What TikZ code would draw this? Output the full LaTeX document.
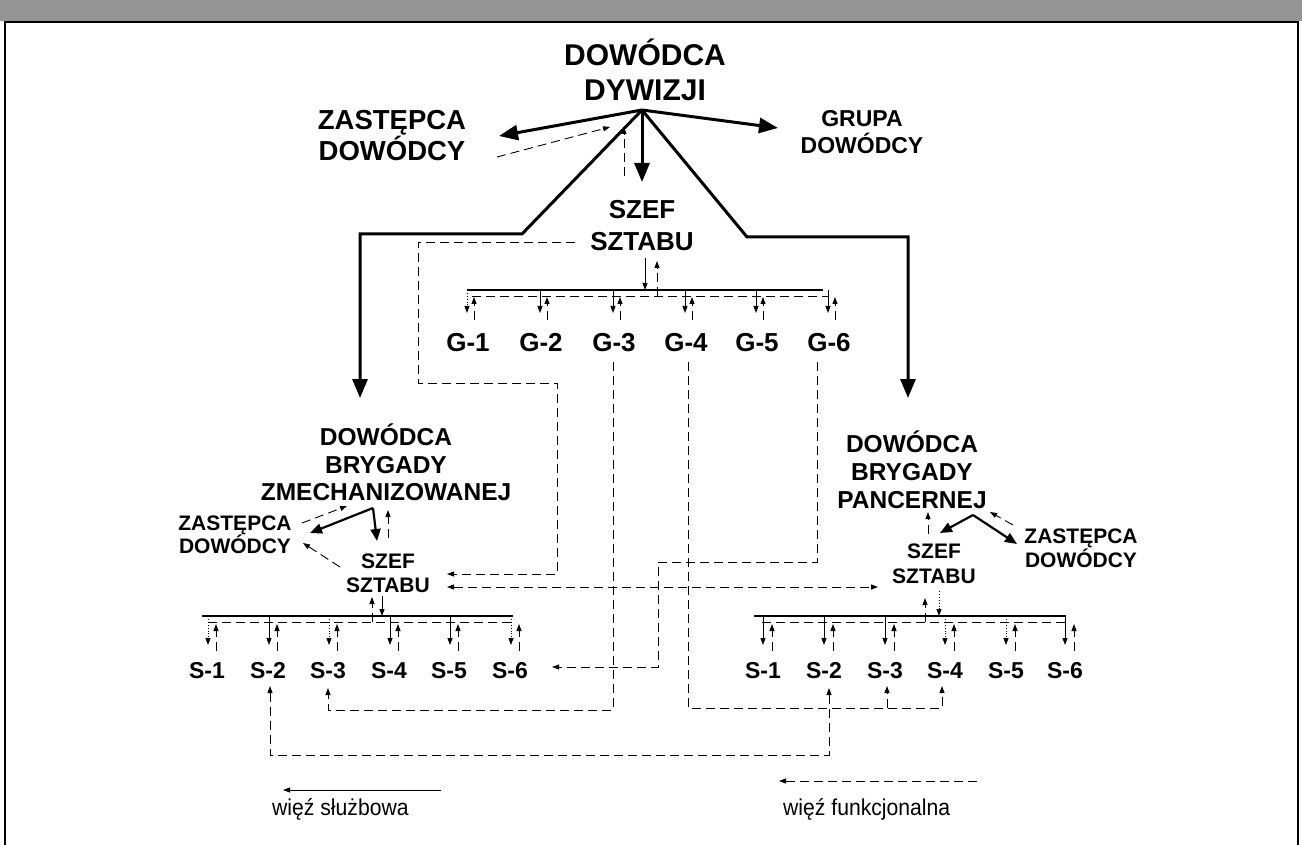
\documentclass[tikz,border=0pt]{standalone}
\usepackage{fontspec}
\setmainfont{Liberation Sans}
\newfontfamily\legendfont[FakeStretch=0.92]{Liberation Sans}
\usetikzlibrary{arrows.meta,calc}
\begin{document}
\begin{tikzpicture}[x=1pt,y=-1pt,
  txt/.style={anchor=base,inner sep=0pt,outer sep=0pt},
  big/.style={txt,font=\fontsize{30}{36}\selectfont\bfseries},
  bigz/.style={txt,font=\fontsize{27.5}{33}\selectfont\bfseries},
  grp/.style={txt,font=\fontsize{23}{28}\selectfont\bfseries},
  szf/.style={txt,font=\fontsize{26}{31}\selectfont\bfseries},
  glab/.style={txt,font=\fontsize{26}{31}\selectfont\bfseries},
  brg/.style={txt,font=\fontsize{24.5}{29}\selectfont\bfseries},
  sml/.style={txt,font=\fontsize{21}{25}\selectfont\bfseries},
  slab/.style={txt,font=\fontsize{23}{28}\selectfont\bfseries},
  leg/.style={anchor=base west,inner sep=0pt,font=\fontsize{23}{27}\selectfont\legendfont},
  main/.style={line width=3pt,line join=miter,-{Triangle[length=19pt,width=15pt]}},
  sub/.style={line width=2.2pt,line join=miter,-{Triangle[length=12pt,width=10pt]}},
  link/.style={line width=0.9pt,-{Triangle[length=7pt,width=5pt]}},
  dotlink/.style={line width=0.9pt,dotted,-{Triangle[length=7pt,width=5pt]}},
  func/.style={line width=0.9pt,dash pattern=on 9pt off 5pt,-{Triangle[length=7pt,width=5pt]}},
  funcline/.style={line width=0.9pt,dash pattern=on 9pt off 5pt},
  funcboth/.style={line width=0.9pt,dash pattern=on 9pt off 5pt,
    {Triangle[length=7pt,width=5pt]}-{Triangle[length=7pt,width=5pt]}},
  bus/.style={line width=1.3pt},
]
\useasboundingbox (0,0) rectangle (1302,845);

% page header band and frame
\fill[black!42] (0,0) rectangle (1302,21);
\draw[line width=1.6pt] (5,845) -- (5,22) -- (1298,22) -- (1298,845);

% ---------- division level ----------
\node[big]  (dd1) at (645,66)  {DOWÓDCA};
\node[big]  (dd2) at (645,101) {DYWIZJI};
\node[bigz] (zt1) at (392,130) {ZASTĘPCA};
\node[bigz] (zt2) at (392,161) {DOWÓDCY};
\node[grp]  (gr1) at (862,127) {GRUPA};
\node[grp]  (gr2) at (862,154) {DOWÓDCY};
\node[szf]  (sz1) at (642,219) {SZEF};
\node[szf]  (sz2) at (642,251) {SZTABU};

\foreach \i/\x in {1/468,2/541,3/614,4/686,5/757,6/829}
  \node[glab] (g\i) at (\x,351) {G-\i};

\coordinate (hub)   at (642,110);
\coordinate (ztTip) at (499,136);
\coordinate (grTip) at (778,128);
\coordinate (szTip) at (642,182);
\coordinate (kL1)   at (522,234);
\coordinate (kL2)   at (360,234);
\coordinate (bzTip) at (360,398);
\coordinate (kR1)   at (747,237);
\coordinate (kR2)   at (908,237);
\coordinate (bpTip) at (908,398);
\coordinate (ztF)   at (497,157);
\coordinate (hubF)  at (610,127);
\coordinate (szF)   at (624,176);
\coordinate (hubF2) at (624,127);

\draw[main] (hub) -- (ztTip);
\draw[main] (hub) -- (grTip);
\draw[main] (hub) -- (szTip);
\draw[main] (hub) -- (kL1) -- (kL2) -- (bzTip);
\draw[main] (hub) -- (kR1) -- (kR2) -- (bpTip);
\draw[func] (ztF) -- (hubF);
\draw[func] (szF) -- (hubF2);

% staff sections G
\coordinate (gBusL)  at (467,290);
\coordinate (gBusR)  at (823,290);
\coordinate (gDashL) at (472,296);
\coordinate (gDashR) at (828,296);
\coordinate (gBusC)  at (645,290);
\coordinate (gDashC) at (657,296);
\draw[bus] (gBusL) -- (gBusR);
\draw[funcline] (gDashL) -- (gDashR);
\draw[link] ($(sz2.base)+(3,7)$) -- (gBusC);
\draw[func] (gDashC) -- ($(sz2.base)+(15,10)$);
\foreach \i/\st in {1/dotlink,2/link,3/link,4/link,5/link,6/link}{
  \draw[\st] ($(g\i.base)+(-1,-61)$) -- ($(g\i.base)+(-1,-38)$);
  \draw[func] ($(g\i.base)+(6,-31)$) -- ($(g\i.base)+(6,-54)$);
}

% ---------- mechanised brigade ----------
\node[brg] (bz1) at (386,445) {DOWÓDCA};
\node[brg] (bz2) at (386,473) {BRYGADY};
\node[brg] (bz3) at (386,500) {ZMECHANIZOWANEJ};
\node[sml] (lz1) at (235,530) {ZASTĘPCA};
\node[sml] (lz2) at (235,553) {DOWÓDCY};
\node[sml] (ls1) at (388,568) {SZEF};
\node[sml] (ls2) at (388,592) {SZTABU};
\foreach \i/\x in {1/207,2/268,3/328,4/389,5/449,6/510}
  \node[slab] (sl\i) at (\x,678) {S-\i};

\coordinate (hubL)  at (373,508);
\coordinate (lzTip) at (310,533);
\coordinate (lsTip) at (377,541);
\draw[sub] (hubL) -- (lzTip);
\draw[sub] (hubL) -- (lsTip);
\draw[func] ($(ls1.base)+(0,-30)$) -- ($(bz3.base)+(2,10)$);
\draw[func] ($(lz1.base)+(67,-7)$) -- ($(bz3.base)+(-39,6)$);
\draw[func] ($(ls1.base)+(-48,-1)$) -- ($(lz2.base)+(68,-10)$);

\coordinate (lBusL)  at (202,616);
\coordinate (lBusR)  at (513,616);
\coordinate (lDashL) at (208,622);
\coordinate (lDashR) at (515,622);
\draw[bus] (lBusL) -- (lBusR);
\draw[funcline] (lDashL) -- (lDashR);
\draw[func] ($(ls2.base)+(-16,30)$) -- ($(ls2.base)+(-16,5)$);
\draw[link] ($(ls2.base)+(-6,4)$) -- ($(ls2.base)+(-6,24)$);
\foreach \i/\st in {1/dotlink,2/link,3/dotlink,4/link,5/link,6/dotlink}{
  \draw[\st] ($(sl\i.base)+(1,-62)$) -- ($(sl\i.base)+(1,-33)$);
  \draw[func] ($(sl\i.base)+(9,-27)$) -- ($(sl\i.base)+(9,-54)$);
}

% ---------- armoured brigade ----------
\node[brg] (bp1) at (912,452) {DOWÓDCA};
\node[brg] (bp2) at (912,480) {BRYGADY};
\node[brg] (bp3) at (912,508) {PANCERNEJ};
\node[sml] (rz1) at (1081,543) {ZASTĘPCA};
\node[sml] (rz2) at (1081,567) {DOWÓDCY};
\node[sml] (rs1) at (934,558) {SZEF};
\node[sml] (rs2) at (934,583) {SZTABU};
\foreach \i/\x in {1/763,2/824,3/885,4/945,5/1006,6/1065}
  \node[slab] (sr\i) at (\x,678) {S-\i};

\coordinate (hubR)  at (973,515);
\coordinate (rsTip) at (940,533);
\coordinate (rzTip) at (1017,544);
\draw[sub] (hubR) -- (rsTip);
\draw[sub] (hubR) -- (rzTip);
\draw[func] ($(rz1.base)+(-68,-18)$) -- ($(bp3.base)+(78,4)$);
\draw[func] ($(rs1.base)+(-6,-24)$) -- ($(bp3.base)+(16,4)$);

\coordinate (rBusL)  at (754,616);
\coordinate (rBusR)  at (1066,616);
\coordinate (rDashL) at (762,622);
\coordinate (rDashR) at (1068,622);
\draw[bus] (rBusL) -- (rBusR);
\draw[funcline] (rDashL) -- (rDashR);
\draw[func] ($(rs2.base)+(-9,39)$) -- ($(rs2.base)+(-9,15)$);
\draw[dotlink] ($(rs2.base)+(5,8)$) -- ($(rs2.base)+(5,33)$);
\foreach \i/\st in {1/link,2/link,3/link,4/dotlink,5/dotlink,6/link}{
  \draw[\st] ($(sr\i.base)+(0,-62)$) -- ($(sr\i.base)+(0,-33)$);
  \draw[func] ($(sr\i.base)+(9,-27)$) -- ($(sr\i.base)+(9,-54)$);
}

% ---------- functional links between levels ----------
\coordinate (t1) at (418,242);
\coordinate (t2) at (418,383);
\coordinate (t3) at (557,383);
\coordinate (t4) at (557,574);
\draw[func] ($(sz2.base)+(-67,-9)$) -- (t1) -- (t2) -- (t3) -- (t4) -- ($(ls2.base)+(59,-18)$);
\draw[funcboth] ($(ls2.base)+(59,-5)$) -- ($(rs2.base)+(-56,4)$);

\coordinate (u1) at (817,562);
\coordinate (u2) at (658,562);
\coordinate (u3) at (658,667);
\draw[func] ($(g6.base)+(-12,11)$) -- (u1) -- (u2) -- (u3) -- ($(sl6.base)+(42,-11)$);

\coordinate (v1) at (688,708);
\coordinate (v2) at (942,708);
\coordinate (v3) at (887,708);
\draw[func] ($(g4.base)+(2,11)$) -- (v1) -- (v2) -- ($(sr4.base)+(-3,8)$);
\draw[func] (v3) -- ($(sr3.base)+(2,8)$);

\coordinate (w1) at (613,710);
\coordinate (w2) at (328,710);
\draw[func] ($(g3.base)+(-1,11)$) -- (w1) -- (w2) -- ($(sl3.base)+(0,10)$);

\coordinate (x1) at (270,755);
\coordinate (x2) at (829,755);
\draw[funcboth] ($(sl2.base)+(2,8)$) -- (x1) -- (x2) -- ($(sr2.base)+(5,10)$);

% ---------- legend ----------
\node[leg] (leg1) at (272,815) {więź służbowa};
\node[leg] (leg2) at (783,815) {więź funkcjonalna};
\coordinate (legA) at (441,790);
\coordinate (legB) at (977,781);
\draw[link] (legA) -- ($(leg1.base west)+(11,-25)$);
\draw[func] (legB) -- ($(leg2.base west)+(-4,-34)$);
\end{tikzpicture}
\end{document}
